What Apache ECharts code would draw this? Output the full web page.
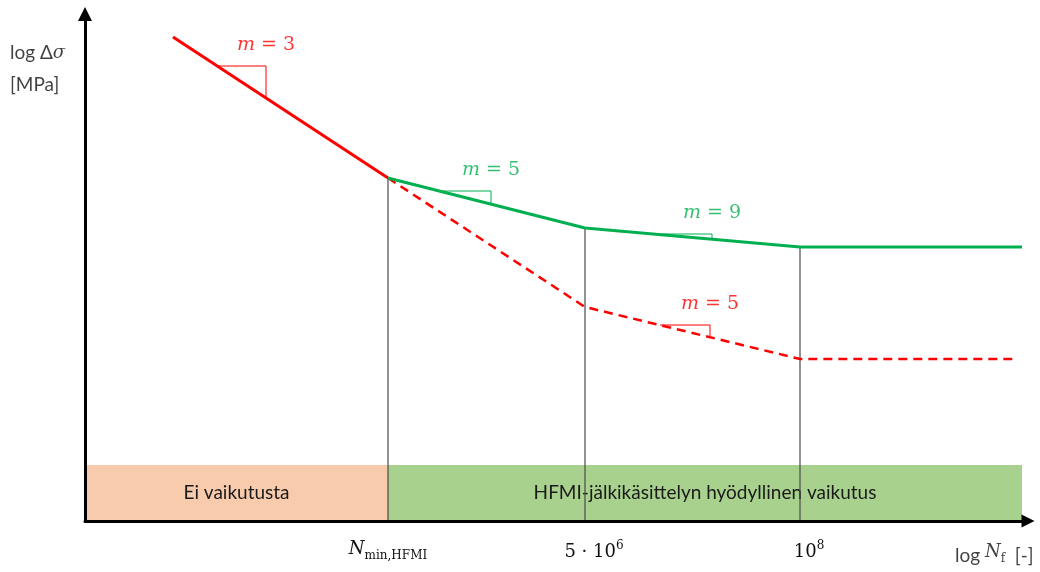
<!DOCTYPE html>
<html>
<head>
<meta charset="utf-8">
<script src="https://cdn.jsdelivr.net/npm/echarts@6/dist/echarts.min.js"></script>
<style>
  html, body { margin: 0; padding: 0; background: #ffffff; }
  #main { width: 1040px; height: 572px; }
</style>
</head>
<body>
<div id="main"></div>
<script>
// Schematic fatigue (S-N) curves in log-log space: as-welded detail vs. HFMI-treated detail.
// Units are schematic: x ~ log N_f, y ~ log Δσ.

const asWeldedSteep = [[88, 484], [303, 343]];                          // m = 3 branch
const hfmiCurve     = [[303, 343], [500, 293], [715, 274], [937, 274]];  // HFMI improved curve
const asWeldedLow   = [[303, 343], [500, 214], [715, 162], [932, 162]];  // continuation without treatment

const dividerX      = [303, 500, 715];        // N_min,HFMI, 5·10^6, 10^8
const dividerTop    = [343, 293, 274];

const bandRanges    = [[0, 303], [303, 937]];
const bandTop       = 56;
const bandLabels    = ['Ei vaikutusta', 'HFMI-jälkikäsittelyn hyödyllinen vaikutus'];

const slopeM        = [3, 5, 9, 5];
const slopeTriangles = [
  [[133, 455], [181, 455], [181, 423]],
  [[358, 330], [406, 330], [406, 317]],
  [[577, 287], [627, 287], [627, 282]],
  [[575, 196], [625, 196], [625, 184]]
];

const tickValues = [303, 500, 715];
const tickLabels = ['{ni|N}{sub|min,HFMI}', '{rp|5 · 10}{sup|6}', '{rp|10}{sup|8}'];

const yTitle = ['{lg|log Δ}{gi|σ}', '{lg|[MPa]}'];
const xTitle = '{lg|log }{ni|N}{sub|f}{lg|  [-]}';

// ---- styling ----
const RED = '#ff0000';
const GREEN = '#00b050';
const slopeColors = [RED, GREEN, GREEN, RED];
const bandColors = ['#f8cbad', '#a9d18e'];
const SERIF = 'DejaVu Serif';
const SANS = 'Lato';
const INK = '#111111';

const mathRich = {
  lg:  { fontFamily: SANS, fontSize: 19, color: INK, verticalAlign: 'bottom' },
  gi:  { fontFamily: SERIF, fontStyle: 'italic', fontSize: 18, color: INK, verticalAlign: 'bottom' },
  ni:  { fontFamily: SERIF, fontStyle: 'italic', fontSize: 18, color: INK, verticalAlign: 'bottom', padding: [0, 0, 4, 0] },
  sub: { fontFamily: SERIF, fontSize: 12, color: INK, verticalAlign: 'bottom' },
  r:   { fontFamily: SERIF, fontSize: 18, color: INK, verticalAlign: 'bottom' },
  rp:  { fontFamily: SERIF, fontSize: 18, color: INK, verticalAlign: 'bottom', padding: [0, 0, 0, 18] },
  sup: { fontFamily: SERIF, fontSize: 12, color: INK, verticalAlign: 'bottom', padding: [0, 0, 9, 0] }
};

const chart = echarts.init(document.getElementById('main'), null, { renderer: 'canvas' });

const series = [];

// shaded effect zones along the bottom
series.push({
  type: 'custom',
  z: 1,
  silent: true,
  data: bandRanges.map((r, i) => [r[0], r[1], bandTop, i]),
  encode: { x: [0, 1], y: 2 },
  renderItem(params, api) {
    const i = api.value(3);
    const p0 = api.coord([api.value(0), api.value(2)]);
    const p1 = api.coord([api.value(1), 0]);
    return {
      type: 'rect',
      shape: { x: p0[0], y: p0[1], width: p1[0] - p0[0], height: p1[1] - p0[1] },
      style: { fill: bandColors[i] },
      textContent: {
        style: { text: bandLabels[i], fontFamily: SANS, fontSize: 19, fill: '#1a1a1a' }
      },
      textConfig: { position: 'inside' }
    };
  }
});

// vertical guide lines at the characteristic cycle counts
dividerX.forEach((x, i) => {
  series.push({
    type: 'line', z: 2, silent: true, symbol: 'none',
    data: [[x, 0], [x, dividerTop[i]]],
    lineStyle: { color: '#4a4a4a', width: 1.2 }
  });
});

// S-N curves
series.push({
  type: 'line', z: 4, symbol: 'none', silent: true,
  data: asWeldedSteep,
  lineStyle: { color: RED, width: 3 }
});
series.push({
  type: 'line', z: 3, symbol: 'none', silent: true,
  data: asWeldedLow,
  lineStyle: { color: RED, width: 2.5, type: [9, 6] }
});
series.push({
  type: 'line', z: 5, symbol: 'none', silent: true,
  data: hfmiCurve,
  lineStyle: { color: GREEN, width: 3 }
});

// slope triangles
slopeTriangles.forEach((pts, i) => {
  series.push({
    type: 'line', z: 4, symbol: 'none', silent: true,
    data: pts,
    lineStyle: { color: slopeColors[i], width: 1 }
  });
});

// slope labels, placed above each triangle's corner
series.push({
  type: 'scatter', z: 6, symbolSize: 0, silent: true, clip: false,
  data: slopeTriangles.map((pts, i) => ({
    value: pts[1],
    label: {
      show: true, position: 'inside', offset: [0, -21],
      formatter: '{mi|m}{mr| = ' + slopeM[i] + '}',
      color: slopeColors[i],
      rich: {
        mi: { fontFamily: SERIF, fontStyle: 'italic', fontSize: 19, color: slopeColors[i] },
        mr: { fontFamily: SERIF, fontSize: 19, color: slopeColors[i] }
      }
    }
  }))
});

// axis titles
series.push({
  type: 'scatter', z: 6, symbolSize: 0, silent: true, clip: false,
  data: [
    { value: [-75, 468], label: { show: true, position: 'right', distance: 0, formatter: yTitle[0], rich: mathRich } },
    { value: [-75, 436], label: { show: true, position: 'right', distance: 0, formatter: yTitle[1], rich: mathRich } },
    { value: [870, -33], label: { show: true, position: 'right', distance: 0, formatter: xTitle, rich: mathRich } }
  ]
});

chart.setOption({
  animation: false,
  backgroundColor: '#ffffff',
  grid: { left: 85, right: 12, top: 14, bottom: 51, containLabel: false },
  xAxis: {
    type: 'value', min: 0, max: 943, z: 10,
    splitLine: { show: false },
    axisTick: { show: false },
    axisLine: {
      show: true, onZero: false,
      lineStyle: { color: '#000000', width: 3 },
      symbol: ['none', 'triangle'], symbolSize: [13, 13]
    },
    axisLabel: {
      show: true,
      customValues: tickValues,
      margin: 19,
      hideOverlap: false,
      formatter: (v) => tickLabels[tickValues.indexOf(v)],
      rich: mathRich
    }
  },
  yAxis: {
    type: 'value', min: 0, max: 507, z: 10,
    splitLine: { show: false },
    axisTick: { show: false },
    axisLabel: { show: false },
    axisLine: {
      show: true, onZero: false,
      lineStyle: { color: '#000000', width: 3 },
      symbol: ['none', 'triangle'], symbolSize: [14, 14]
    }
  },
  series: series
});
</script>
</body>
</html>
